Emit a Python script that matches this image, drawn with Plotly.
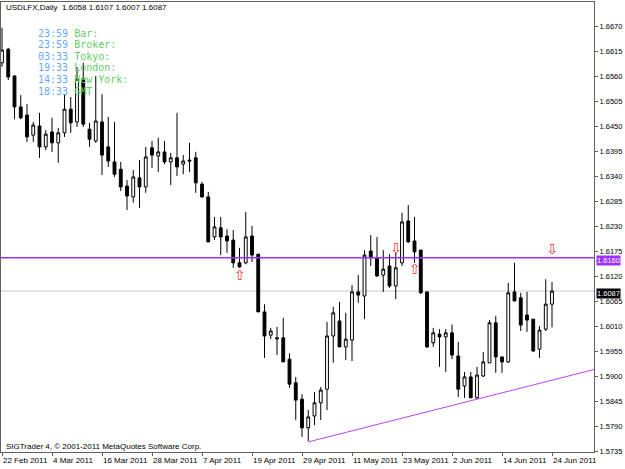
import plotly.graph_objects as go

# ---------------- data ----------------
opens = [1.6589, 1.6619, 1.6560, 1.6492, 1.6474, 1.6430, 1.6450, 1.6404, 1.6437, 1.6413,
         1.6435, 1.6487, 1.6459, 1.6553, 1.6443, 1.6417, 1.6459, 1.6404, 1.6371, 1.6355,
         1.6318, 1.6294, 1.6336, 1.6316, 1.6402, 1.6384, 1.6393, 1.6371, 1.6380, 1.6366,
         1.6375, 1.6380, 1.6322, 1.6294, 1.6206, 1.6226, 1.6208, 1.6199, 1.6149, 1.6149,
         1.6208, 1.6168, 1.6041, 1.5990, 1.5984, 1.5984, 1.5937, 1.5885, 1.5849, 1.5786,
         1.5812, 1.5841, 1.5871, 1.5988, 1.6021, 1.5964, 1.5979, 1.6085, 1.6076, 1.6175,
         1.6160, 1.6122, 1.6142, 1.6098, 1.6149, 1.6241, 1.6197, 1.6177, 1.6085, 1.5973,
         1.5992, 1.5986, 1.5995, 1.5944, 1.5878, 1.5898, 1.5852, 1.5900, 1.5929, 1.6017,
         1.5942, 1.5931, 1.6085, 1.6072, 1.6034, 1.6025, 1.5959, 1.6003, 1.6058]
highs = [1.6666, 1.6622, 1.6562, 1.6518, 1.6498, 1.6459, 1.6479, 1.6441, 1.6468, 1.6446,
         1.6520, 1.6514, 1.6580, 1.6589, 1.6457, 1.6560, 1.6520, 1.6470, 1.6459, 1.6371,
         1.6331, 1.6353, 1.6375, 1.6404, 1.6417, 1.6424, 1.6417, 1.6391, 1.6479, 1.6386,
         1.6413, 1.6393, 1.6327, 1.6305, 1.6250, 1.6250, 1.6223, 1.6221, 1.6182, 1.6261,
         1.6230, 1.6168, 1.6058, 1.6006, 1.6008, 1.6028, 1.5950, 1.5898, 1.5860, 1.5825,
         1.5865, 1.5876, 1.6019, 1.6052, 1.6063, 1.6039, 1.6100, 1.6122, 1.6177, 1.6210,
         1.6206, 1.6177, 1.6168, 1.6171, 1.6259, 1.6276, 1.6250, 1.6177, 1.6085, 1.6006,
         1.6003, 1.6003, 1.6013, 1.5975, 1.5909, 1.5909, 1.5920, 1.5953, 1.6023, 1.6032,
         1.5942, 1.6105, 1.6149, 1.6083, 1.6085, 1.6025, 1.6010, 1.6113, 1.6107]
lows = [1.6580, 1.6551, 1.6465, 1.6465, 1.6415, 1.6415, 1.6380, 1.6397, 1.6393, 1.6369,
        1.6426, 1.6435, 1.6448, 1.6448, 1.6404, 1.6413, 1.6342, 1.6360, 1.6338, 1.6307,
        1.6265, 1.6281, 1.6270, 1.6303, 1.6358, 1.6349, 1.6366, 1.6320, 1.6340, 1.6344,
        1.6349, 1.6303, 1.6292, 1.6195, 1.6199, 1.6166, 1.6171, 1.6138, 1.6138, 1.6146,
        1.6151, 1.6041, 1.5940, 1.5981, 1.5946, 1.5931, 1.5874, 1.5803, 1.5766, 1.5757,
        1.5792, 1.5803, 1.5825, 1.5929, 1.5964, 1.5935, 1.5933, 1.6061, 1.6025, 1.6142,
        1.6118, 1.6085, 1.6094, 1.6069, 1.6142, 1.6193, 1.6149, 1.6080, 1.5962, 1.5964,
        1.5920, 1.5909, 1.5937, 1.5854, 1.5852, 1.5852, 1.5849, 1.5898, 1.5929, 1.5907,
        1.5907, 1.5929, 1.6065, 1.5999, 1.5997, 1.5953, 1.5940, 1.5999, 1.6007]
closes = [1.6617, 1.6558, 1.6492, 1.6468, 1.6426, 1.6452, 1.6404, 1.6432, 1.6413, 1.6435,
          1.6487, 1.6457, 1.6553, 1.6454, 1.6421, 1.6461, 1.6386, 1.6373, 1.6344, 1.6316,
          1.6296, 1.6338, 1.6316, 1.6382, 1.6386, 1.6393, 1.6371, 1.6380, 1.6360, 1.6373,
          1.6373, 1.6325, 1.6294, 1.6195, 1.6228, 1.6206, 1.6197, 1.6149, 1.6140, 1.6206,
          1.6166, 1.6041, 1.5988, 1.5999, 1.5982, 1.5931, 1.5882, 1.5847, 1.5786, 1.5810,
          1.5841, 1.5869, 1.5988, 1.6039, 1.5964, 1.5981, 1.6085, 1.6078, 1.6166, 1.6160,
          1.6120, 1.6135, 1.6098, 1.6138, 1.6239, 1.6195, 1.6173, 1.6083, 1.5964, 1.5995,
          1.5986, 1.5995, 1.5946, 1.5871, 1.5898, 1.5852, 1.5902, 1.5931, 1.6017, 1.5942,
          1.5931, 1.6083, 1.6065, 1.6012, 1.6023, 1.5955, 1.6001, 1.6058, 1.6087]

date_tick_labels = ["22 Feb 2011", "4 Mar 2011", "16 Mar 2011", "28 Mar 2011", "7 Apr 2011",
                    "19 Apr 2011", "29 Apr 2011", "11 May 2011", "23 May 2011", "2 Jun 2011",
                    "14 Jun 2011", "24 Jun 2011"]
bars_per_label = 8

price_ticks = [1.5735, 1.5790, 1.5845, 1.5900, 1.5955, 1.6010, 1.6065, 1.6120, 1.6175,
               1.6230, 1.6285, 1.6340, 1.6395, 1.6450, 1.6505, 1.6560, 1.6615, 1.6670]

hline_level = 1.6160
trend_bars = [49, 76]
trend_prices = [1.5755, 1.5849]

arrow_up_bars = [38, 66]
arrow_up_prices = [1.6120, 1.6133]
arrow_down_bars = [63, 88]
arrow_down_prices = [1.6179, 1.6177]

clock_times = ["23:59", "23:59", "03:33", "19:33", "14:33", "18:33"]
clock_labels = ["Bar:", "Broker:", "Tokyo:", "London:", "New York:", "GMT"]

symbol_title = "USDLFX,Daily"
copyright_text = "SIGTrader 4, © 2001-2011 MetaQuotes Software Corp."

# ---------------- figure ----------------
W, H = 625, 469
ML, MR, MT, MB = 1, 31, 2, 17
x_range = [-0.16, 94.72]
y_range = [1.57328, 1.67228]

n = len(closes)
xs = list(range(n))

fig = go.Figure()

fig.add_trace(go.Candlestick(
    x=xs, open=opens, high=highs, low=lows, close=closes,
    increasing=dict(line=dict(color="black", width=1), fillcolor="white"),
    decreasing=dict(line=dict(color="black", width=1), fillcolor="black"),
    whiskerwidth=0, showlegend=False, hoverinfo="skip",
))

# trend line (ray to the right edge)
slope = (trend_prices[1] - trend_prices[0]) / (trend_bars[1] - trend_bars[0])
tx = [trend_bars[0], x_range[1]]
ty = [trend_prices[0], trend_prices[0] + slope * (x_range[1] - trend_bars[0])]
fig.add_trace(go.Scatter(x=tx, y=ty, mode="lines", line=dict(color="#BB44F0", width=1),
                         showlegend=False, hoverinfo="skip", cliponaxis=True))

# arrows
fig.add_trace(go.Scatter(x=arrow_up_bars, y=arrow_up_prices, mode="text", text=["⇧"] * len(arrow_up_bars),
                         textfont=dict(color="#FF3030", size=14, family="DejaVu Sans"),
                         showlegend=False, hoverinfo="skip"))
fig.add_trace(go.Scatter(x=arrow_down_bars, y=arrow_down_prices, mode="text", text=["⇩"] * len(arrow_down_bars),
                         textfont=dict(color="#FF3030", size=14, family="DejaVu Sans"),
                         showlegend=False, hoverinfo="skip"))

shapes = [
    dict(type="line", xref="paper", x0=0, x1=1, yref="y", y0=closes[-1], y1=closes[-1],
         line=dict(color="#C8C8C8", width=1), layer="below"),
    dict(type="line", xref="paper", x0=0, x1=1, yref="y", y0=hline_level, y1=hline_level,
         line=dict(color="#9B30FF", width=1.5), layer="above"),
]

annotations = []
pw = W - ML - MR
ph = H - MT - MB


def px_x(p):
    return (p - ML) / pw


def px_y(p):
    return 1 - (p - MT) / ph


# header
ohlc_txt = "%.4f %.4f %.4f %.4f" % (opens[-1], highs[-1], lows[-1], closes[-1])
annotations.append(dict(xref="paper", yref="paper", x=px_x(4), y=px_y(7.5), xanchor="left", yanchor="middle",
                        text=symbol_title + "&nbsp;&nbsp;" + ohlc_txt, showarrow=False,
                        font=dict(family="Liberation Sans", size=8, color="black")))
# clocks
for i, (t, lab) in enumerate(zip(clock_times, clock_labels)):
    annotations.append(dict(
        xref="paper", yref="paper", x=px_x(36), y=px_y(33 + i * 11.6), xanchor="left", yanchor="middle",
        text="<span style='color:#66AAFF'>%s</span> <span style='color:#66CC66'>%s</span>" % (t, lab),
        showarrow=False, font=dict(family="DejaVu Sans Mono", size=10)))
# copyright
annotations.append(dict(xref="paper", yref="paper", x=px_x(4), y=px_y(446), xanchor="left", yanchor="middle",
                        text=copyright_text, showarrow=False,
                        font=dict(family="Liberation Sans", size=8, color="black")))
# price labels on the axis
for lvl, col in [(hline_level, "#9B30FF"), (closes[-1], "black")]:
    annotations.append(dict(xref="paper", yref="y", x=1, y=lvl, xanchor="left", yanchor="middle", xshift=2,
                            text="%.4f" % lvl, showarrow=False, bgcolor=col, borderpad=0,
                            height=9, yshift=-2.5,
                            font=dict(family="Liberation Sans", size=7.5, color="white")))

fig.update_layout(
    width=W, height=H, margin=dict(l=ML, r=MR, t=MT, b=MB, autoexpand=False),
    paper_bgcolor="white", plot_bgcolor="white",
    showlegend=False, boxgap=0.35,
    shapes=shapes, annotations=annotations,
    xaxis=dict(range=x_range, showgrid=False, zeroline=False, rangeslider=dict(visible=False),
               showline=True, mirror=True, linecolor="#606060", linewidth=1, automargin=False,
               ticks="outside", ticklen=3, tickcolor="#606060", tickangle=0,
               tickvals=[i * bars_per_label for i in range(len(date_tick_labels))],
               ticktext=date_tick_labels, ticklabelposition="outside right",
               tickfont=dict(family="Liberation Sans", size=8, color="black")),
    yaxis=dict(range=y_range, side="right", showgrid=False, zeroline=False, automargin=False,
               showline=True, mirror=True, linecolor="#606060", linewidth=1,
               ticks="outside", ticklen=3, tickcolor="#606060",
               tickvals=price_ticks, ticktext=["%.4f" % v for v in price_ticks],
               tickfont=dict(family="Liberation Sans", size=7.5, color="black")),
)

fig.write_html("out.html")
